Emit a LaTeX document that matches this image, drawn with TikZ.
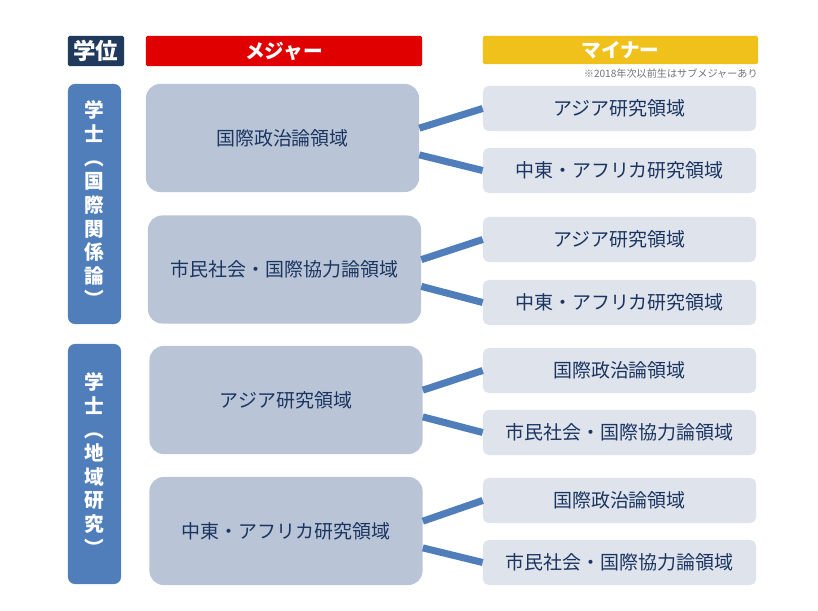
\documentclass[tikz,border=0pt]{standalone}
\usepackage{fontspec}
\newfontfamily\jp{Noto Sans CJK JP}
\definecolor{navy}{HTML}{1F3A5C}
\definecolor{majred}{HTML}{E00000}
\definecolor{minyellow}{HTML}{F0C11A}
\definecolor{degblue}{HTML}{4F7EBB}
\definecolor{majfill}{HTML}{B9C5D7}
\definecolor{minfill}{HTML}{DEE3EC}
\definecolor{textnavy}{HTML}{1B3560}
\begin{document}
\begin{tikzpicture}[
  x=0.025cm, y=-0.025cm,
  head/.style={rounded corners=1pt, align=center, font=\jp\bfseries\fontsize{14}{16}\selectfont, text=white, minimum height=0.75cm, inner sep=0pt},
  degree/.style={fill=degblue, rounded corners=5pt, align=center, font=\jp\bfseries\fontsize{14}{16.8}\selectfont, text=white, minimum width=1.325cm, minimum height=6cm, inner sep=0pt},
  major/.style={fill=majfill, rounded corners=10pt, align=center, font=\jp\fontsize{13.5}{16}\selectfont, text=textnavy, minimum width=6.825cm, minimum height=2.7cm, inner sep=0pt},
  minor/.style={fill=minfill, rounded corners=4pt, align=center, font=\jp\fontsize{13.5}{16}\selectfont, text=textnavy, minimum width=6.825cm, minimum height=1.125cm, inner sep=0pt},
  link/.style={draw=degblue, line width=5pt}
]
\useasboundingbox (0,0) rectangle (818,611);
% headers
\node[head, fill=navy, minimum width=1.4cm, font=\jp\bfseries\fontsize{16}{18}\selectfont] (gakui) at (96,51) {学位};
\node[head, fill=majred, minimum width=6.9cm] (majorhead) at (284,51) {メジャー};
\node[head, fill=minyellow, minimum width=6.875cm, minimum height=0.7cm] (minorhead) at (620.5,50) {マイナー};
\node[anchor=east, inner sep=0pt, font=\jp\fontsize{7.2}{8}\selectfont, text=black!55] (note) at (758,74) {※2018年次以前生はサブメジャーあり};

% degrees
\node[degree] (kokusai) at (94.5,204) {学\\士\\︵\\国\\際\\関\\係\\論\\︶};
\node[degree] (chiiki) at (94.5,464) {学\\士\\︵\\地\\域\\研\\究\\︶};

% majors
\node[major] (majA) at (282.5,138) {国際政治論領域};
\node[major] (majB) at (284.5,269.5) {市民社会・国際協力論領域};
\node[major] (majC) at (286,400) {アジア研究領域};
\node[major] (majD) at (286,531) {中東・アフリカ研究領域};

% minors
\node[minor] (minA1) at (619.5,108.5) {アジア研究領域};
\node[minor] (minA2) at (619.5,170.5) {中東・アフリカ研究領域};
\node[minor] (minB1) at (619.5,239.5) {アジア研究領域};
\node[minor] (minB2) at (619.5,302.5) {中東・アフリカ研究領域};
\node[minor] (minC1) at (619.5,370.5) {国際政治論領域};
\node[minor] (minC2) at (619.5,432.5) {市民社会・国際協力論領域};
\node[minor] (minD1) at (619.5,500.5) {国際政治論領域};
\node[minor] (minD2) at (619.5,562.5) {市民社会・国際協力論領域};

\foreach \m/\a/\b in {majA/minA1/minA2, majB/minB1/minB2, majC/minC1/minC2, majD/minD1/minD2} {
  \draw[link] ([yshift=7pt]\m.east) -- (\a.west);
  \draw[link] ([yshift=-12pt]\m.east) -- (\b.west);
}
\end{tikzpicture}
\end{document}
